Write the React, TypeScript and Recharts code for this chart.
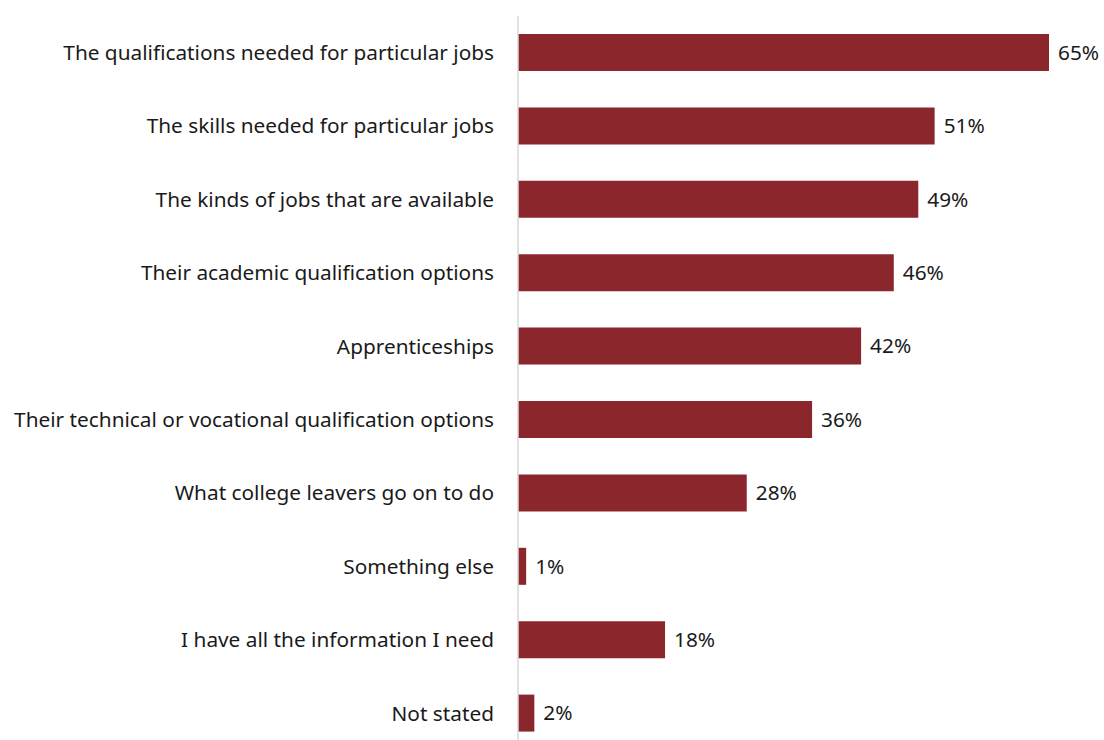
import { BarChart, Bar, XAxis, YAxis, LabelList } from "recharts";

const CATEGORIES = [
  "The qualifications needed for particular jobs",
  "The skills needed for particular jobs",
  "The kinds of jobs that are available",
  "Their academic qualification options",
  "Apprenticeships",
  "Their technical or vocational qualification options",
  "What college leavers go on to do",
  "Something else",
  "I have all the information I need",
  "Not stated",
];

const VALUES = [65, 51, 49, 46, 42, 36, 28, 1, 18, 2];

const DATA = CATEGORIES.map((name, i) => ({ name, value: VALUES[i] }));

const FONT = "'Noto Sans', 'Open Sans', sans-serif";

export default function App() {
  return (
    <div
      style={{
        position: "fixed",
        top: 0,
        left: 0,
        width: 1104,
        height: 740,
        overflow: "hidden",
        background: "#fff",
      }}
    >
      <BarChart
        width={1104}
        height={750}
        data={DATA}
        layout="vertical"
        margin={{ top: 16, right: 55, left: 0, bottom: 0 }}
        barCategoryGap="25%"
      >
        <XAxis type="number" domain={[0, 65]} hide />
        <YAxis
          type="category"
          dataKey="name"
          width={518}
          axisLine={{ stroke: "#d9d9d9", strokeWidth: 1.5 }}
          tickLine={false}
          interval={0}
          tickMargin={18}
          tick={{ fontSize: 20.8, fill: "#1a1a1a", fontFamily: FONT }}
        />
        <Bar dataKey="value" fill="#8b262d" barSize={37} isAnimationActive={false}>
          <LabelList
            dataKey="value"
            position="right"
            offset={9}
            formatter={(v: number) => `${v}%`}
            style={{ fontSize: 20.8, fill: "#1a1a1a", fontFamily: FONT }}
          />
        </Bar>
      </BarChart>
    </div>
  );
}
